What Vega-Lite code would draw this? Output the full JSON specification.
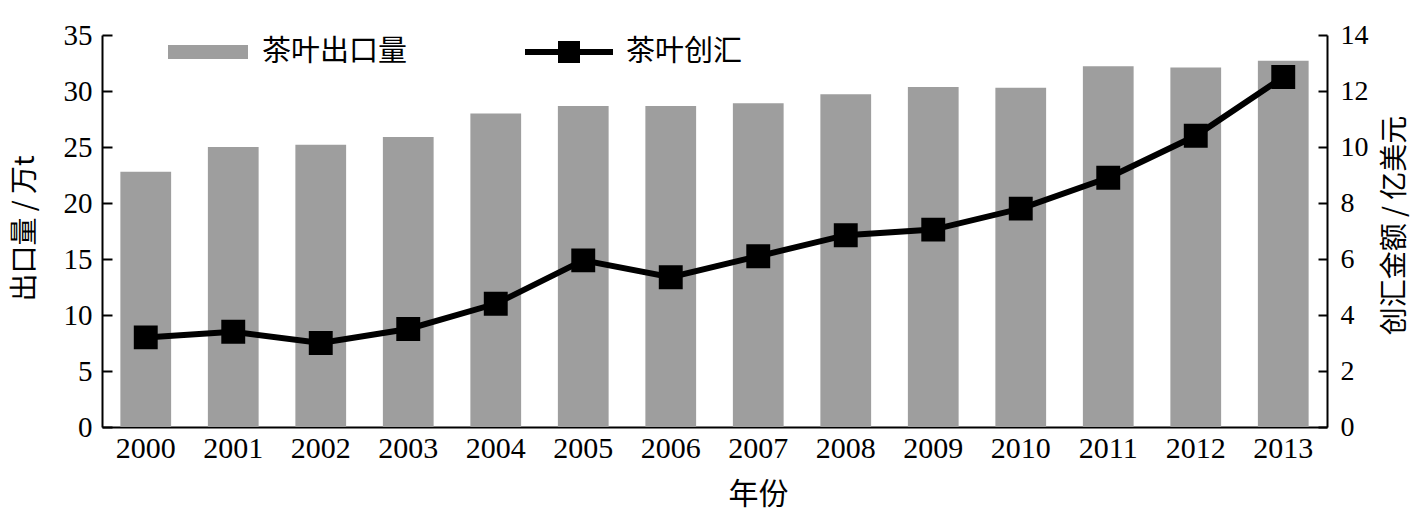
{
  "$schema": "https://vega.github.io/schema/vega-lite/v6.json",
  "autosize": "none",
  "padding": {"left": 102, "top": 35, "right": 92, "bottom": 86},
  "width": 1225,
  "height": 392,
  "background": "white",
  "data": {
    "values": [
      {"year": "2000", "export": 22.8, "value": 3.2},
      {"year": "2001", "export": 25.0, "value": 3.4},
      {"year": "2002", "export": 25.2, "value": 3.0},
      {"year": "2003", "export": 25.9, "value": 3.5},
      {"year": "2004", "export": 28.0, "value": 4.4},
      {"year": "2005", "export": 28.65, "value": 5.95},
      {"year": "2006", "export": 28.65, "value": 5.35},
      {"year": "2007", "export": 28.9, "value": 6.1},
      {"year": "2008", "export": 29.7, "value": 6.85},
      {"year": "2009", "export": 30.35, "value": 7.05},
      {"year": "2010", "export": 30.3, "value": 7.8},
      {"year": "2011", "export": 32.2, "value": 8.9},
      {"year": "2012", "export": 32.1, "value": 10.4},
      {"year": "2013", "export": 32.7, "value": 12.5}
    ]
  },
  "encoding": {
    "x": {
      "field": "year",
      "type": "ordinal",
      "scale": {"paddingInner": 0.42, "paddingOuter": 0.21},
      "axis": {
        "title": "年份",
        "labelAngle": 0,
        "labelFontSize": 30,
        "labelPadding": 6,
        "ticks": false,
        "titleX": 656,
        "titleY": 67,
        "titleAlign": "center",
        "titleBaseline": "middle",
        "titleFontSize": 30
      }
    }
  },
  "layer": [
    {
      "mark": {"type": "bar"},
      "encoding": {
        "y": {
          "field": "export",
          "type": "quantitative",
          "scale": {"domain": [0, 35]},
          "axis": {
            "orient": "left",
            "title": "出口量 / 万t",
            "values": [0, 5, 10, 15, 20, 25, 30, 35],
            "tickSize": -10,
            "labelPadding": 20,
            "labelFontSize": 29,
            "titleAngle": -90,
            "titleX": -77,
            "titleY": 193,
            "titleAlign": "center",
            "titleBaseline": "middle"
          }
        },
        "fill": {
          "datum": "茶叶出口量",
          "scale": {"range": ["#9e9e9e"]},
          "legend": {
            "orient": "none",
            "legendX": 66,
            "legendY": -23,
            "title": null,
            "symbolType": "M-1,-0.175H1V0.175H-1Z",
            "symbolSize": 6400,
            "symbolStrokeWidth": 0,
            "labelOffset": 14
          }
        }
      }
    },
    {
      "mark": {
        "type": "line",
        "strokeWidth": 6,
        "point": {"shape": "square", "size": 480, "filled": true, "color": "black"}
      },
      "encoding": {
        "y": {
          "field": "value",
          "type": "quantitative",
          "scale": {"domain": [0, 14]},
          "axis": {
            "orient": "right",
            "title": "创汇金额 / 亿美元",
            "values": [0, 2, 4, 6, 8, 10, 12, 14],
            "tickSize": -9,
            "labelPadding": 22,
            "labelFontSize": 28,
            "titleAngle": -90,
            "titleX": 68,
            "titleY": 190,
            "titleAlign": "center",
            "titleBaseline": "middle"
          }
        },
        "stroke": {
          "datum": "茶叶创汇",
          "scale": {"range": ["black"]},
          "legend": {
            "orient": "none",
            "legendX": 423,
            "legendY": -27,
            "title": null,
            "symbolType": "M-1,-0.07H-0.25V-0.25H0.25V-0.07H1V0.07H0.25V0.25H-0.25V0.07H-1Z",
            "symbolSize": 7744,
            "labelOffset": 13,
            "encode": {
              "symbols": {
                "update": {
                  "fill": {"value": "black"},
                  "stroke": {"value": "black"},
                  "strokeWidth": {"value": 0},
                  "opacity": {"value": 1}
                }
              }
            }
          }
        }
      }
    }
  ],
  "resolve": {"scale": {"y": "independent"}},
  "config": {
    "view": {"stroke": null},
    "axis": {
      "domainColor": "black",
      "domainWidth": 2,
      "tickColor": "black",
      "tickWidth": 2,
      "grid": false,
      "labelFont": "Liberation Serif",
      "labelColor": "black",
      "titleFont": "Noto Sans CJK SC",
      "titleFontWeight": "normal",
      "titleFontSize": 28,
      "titleColor": "black"
    },
    "legend": {
      "labelFont": "Noto Sans CJK SC",
      "labelFontSize": 29,
      "labelColor": "black",
      "padding": 0,
      "labelLimit": 400
    }
  }
}
